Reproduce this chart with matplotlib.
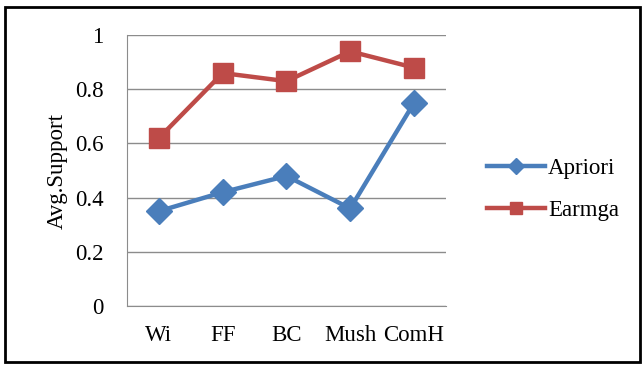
import numpy as np
import matplotlib.pyplot as plt
from matplotlib.patches import Rectangle

# Datos
datasets = ['Wi', 'FF', 'BC', 'Mush', 'ComH']
apriori  = [0.35, 0.42, 0.48, 0.36, 0.75]
earmga   = [0.62, 0.86, 0.83, 0.94, 0.88]

plt.rcParams['font.family'] = 'Liberation Serif'
fs_txt = 16.5

fig = plt.figure(figsize=(6.43, 3.68), dpi=100)
ax = fig.add_axes([0.1975, 0.1685, 0.496, 0.736])

x = np.arange(len(datasets))
ax.plot(x, apriori, color='#4A7EBB', lw=3.2, marker='D', markersize=13, label='Apriori')
ax.plot(x, earmga,  color='#BE4B48', lw=3.2, marker='s', markersize=14, label='Earmga')

ax.set_xlim(-0.5, len(datasets) - 0.5)
ax.set_ylim(0, 1)
ax.set_yticks([0, 0.2, 0.4, 0.6, 0.8, 1])
ax.set_yticklabels(['0', '0.2', '0.4', '0.6', '0.8', '1'], fontsize=fs_txt)
ax.set_xticks(x)
ax.set_xticklabels(datasets, fontsize=fs_txt)
ax.tick_params(axis='y', length=0, pad=17)
ax.tick_params(axis='x', length=0, pad=14)
ax.set_ylabel('Avg.Support', fontsize=fs_txt)
ax.yaxis.set_label_coords(-0.185, 0.5)

ax.grid(axis='y', color='#8c8c8c', lw=1)
ax.set_axisbelow(True)
for s in ['top', 'right']:
    ax.spines[s].set_visible(False)
for s in ['left', 'bottom']:
    ax.spines[s].set_color('#8c8c8c')

ax.legend(loc='center left', bbox_to_anchor=(1.13, 0.43), frameon=False,
          fontsize=fs_txt, handlelength=2.5, labelspacing=0.9, handletextpad=0.15,
          borderaxespad=0, borderpad=0, markerscale=0.6)

# marco exterior
fig.patches.append(Rectangle((0.008, 0.016), 0.987, 0.965, transform=fig.transFigure,
                             fill=False, ec='black', lw=2))

fig.savefig('out.png', dpi=100)
